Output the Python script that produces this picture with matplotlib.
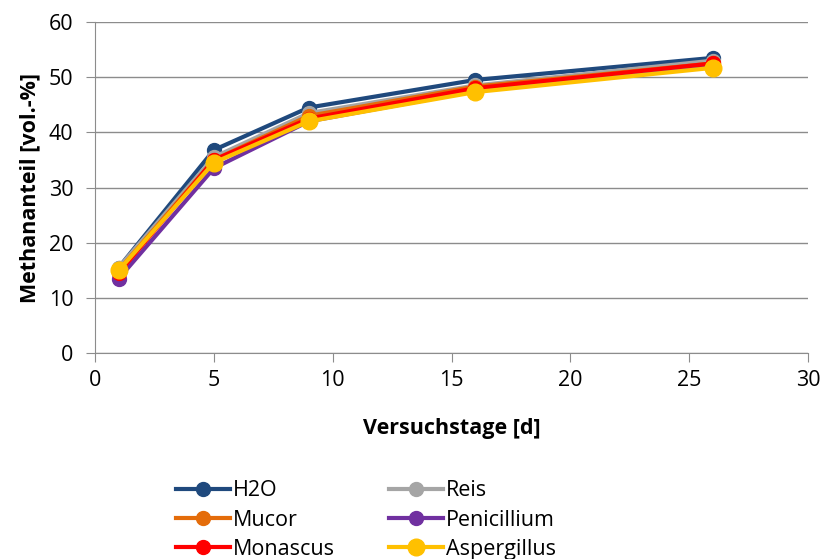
import matplotlib.pyplot as plt

days = [1, 5, 9, 16, 26]
h2o = [15.5, 36.8, 44.5, 49.5, 53.5]
reis = [15.5, 35.5, 43.5, 48.5, 53.0]
mucor = [15.0, 35.0, 43.0, 48.3, 52.5]
penicillium = [13.5, 33.5, 42.0, 47.5, 52.0]
monascus = [14.5, 35.0, 42.5, 48.0, 52.5]
aspergillus = [15.0, 34.5, 42.0, 47.3, 51.7]

series = [
    ("H2O", h2o, "#1F497D"),
    ("Reis", reis, "#A5A5A5"),
    ("Mucor", mucor, "#E46C0A"),
    ("Penicillium", penicillium, "#7030A0"),
    ("Monascus", monascus, "#FF0000"),
    ("Aspergillus", aspergillus, "#FFC000"),
]

plt.rcParams['font.family'] = ['Open Sans', 'DejaVu Sans']

fig = plt.figure(figsize=(8.24, 5.59), dpi=100)
ax = fig.add_axes([0.1153, 0.3685, 0.8653, 0.5921])

handles = {}
for name, vals, color in series:
    ms = 12 if name == "Aspergillus" else 10
    line, = ax.plot(days, vals, color=color, lw=3, marker='o', ms=ms, label=name)
    handles[name] = line

ax.set_xlim(0, 30)
ax.set_ylim(0, 60)
ax.set_xticks(range(0, 31, 5))
ax.set_yticks(range(0, 61, 10))
ax.grid(axis='y', color='#8C8C8C', lw=1)
ax.set_axisbelow(True)
for s in ['top', 'right']:
    ax.spines[s].set_visible(False)
for s in ['left', 'bottom']:
    ax.spines[s].set_color('#8C8C8C')
ax.tick_params(labelsize=15.5, color='#8C8C8C', length=6.5, direction='out', pad=6)
ax.tick_params(axis='y', pad=9)

ax.set_xlabel("Versuchstage [d]", fontsize=15.5, fontweight='bold', labelpad=19)
ax.set_ylabel("Methananteil [vol.-%]", fontsize=15.5, fontweight='bold', labelpad=6)

order = ["H2O", "Mucor", "Monascus", "Reis", "Penicillium", "Aspergillus"]
fig.legend([handles[n] for n in order], order, ncol=2, loc='lower left',
           bbox_to_anchor=(0.19, -0.036), frameon=False, fontsize=15.5,
           handlelength=2.5, columnspacing=2.5, labelspacing=0.38, handletextpad=0.15)

fig.savefig("out.png", dpi=100)
